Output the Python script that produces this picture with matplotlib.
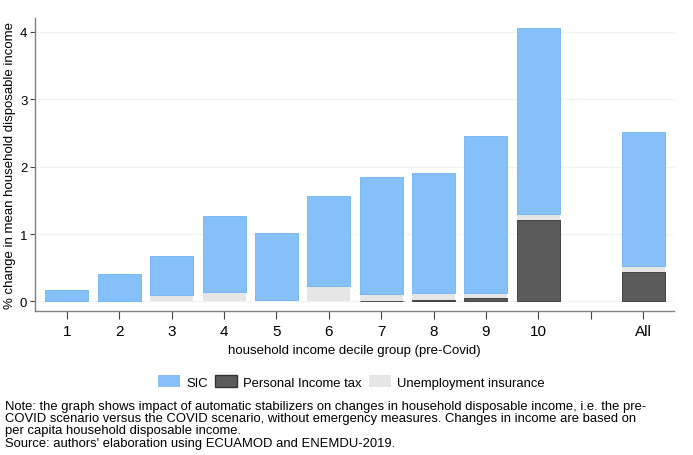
import numpy as np
import matplotlib.pyplot as plt
from matplotlib.patches import Patch

plt.rcParams['font.family'] = ['Liberation Sans', 'DejaVu Sans']

# data
groups = ['1', '2', '3', '4', '5', '6', '7', '8', '9', '10', 'All']
pit = [0, 0, 0, 0, 0, 0, 0.01, 0.02, 0.05, 1.21, 0.44]
ui = [0, 0, 0.10, 0.14, 0.02, 0.23, 0.10, 0.11, 0.08, 0.09, 0.09]
sic = [0.17, 0.41, 0.57, 1.13, 0.99, 1.33, 1.73, 1.77, 2.32, 2.76, 1.98]

# decile 1..10, blank slot, then All
pos = [1, 2, 3, 4, 5, 6, 7, 8, 9, 10, 12]

c_sic = '#85c0f9'
c_pit = '#5b5b5b'
c_ui = '#e6e6e6'

fig = plt.figure(figsize=(6.93, 4.56), dpi=100)
ax = fig.add_axes([0.0505, 0.316, 0.922, 0.642])

pit = np.array(pit)
ui = np.array(ui)
sic = np.array(sic)
w = 0.82
# no outline where the tax part is zero
pit_lw = [0.6 if v > 0 else 0 for v in pit]
ax.bar(pos, pit, width=w, color=c_pit, edgecolor='#333333', linewidth=pit_lw, zorder=3)
ax.bar(pos, ui, width=w, bottom=pit, color=c_ui, linewidth=0, zorder=3)
ax.bar(pos, sic, width=w, bottom=pit + ui, color=c_sic, edgecolor='#6fb2f5', linewidth=0.6, zorder=3)

ax.set_xlim(0.39, 12.59)
ax.set_ylim(-0.14, 4.2)
ax.set_xticks([1, 2, 3, 4, 5, 6, 7, 8, 9, 10, 11, 12])
ax.set_xticklabels(['1', '2', '3', '4', '5', '6', '7', '8', '9', '10', '', 'All'], fontsize=11)
ax.set_yticks([0, 1, 2, 3, 4])
ax.tick_params(axis='y', labelsize=9.5, length=3.5, color='#444444', pad=2)
ax.tick_params(axis='x', length=5.5, color='#444444', pad=4)
ax.yaxis.grid(True, color='#f2f2f2', linewidth=0.8, zorder=0)
for s in ['top', 'right']:
    ax.spines[s].set_visible(False)
for s in ['left', 'bottom']:
    ax.spines[s].set_color('#808080')
    ax.spines[s].set_linewidth(1.0)

ax.set_xlabel('household income decile group (pre-Covid)', fontsize=9.5, labelpad=4)
ax.set_ylabel('% change in mean household disposable income', fontsize=9.5, labelpad=3)

handles = [Patch(facecolor=c_sic, edgecolor='none'),
           Patch(facecolor=c_pit, edgecolor='#333333'),
           Patch(facecolor=c_ui, edgecolor='none')]
fig.legend(handles, ['SIC', 'Personal Income tax', 'Unemployment insurance'],
           loc='center', bbox_to_anchor=(0.507, 0.16), ncol=3, frameon=False,
           fontsize=9.4, handlelength=1.7, handleheight=0.95, handletextpad=0.45,
           columnspacing=0.55)

note = ("Note: the graph shows impact of automatic stabilizers on changes in household disposable income, i.e. the pre-\n"
        "COVID scenario versus the COVID scenario, without emergency measures. Changes in income are based on\n"
        "per capita household disposable income.\n"
        "Source: authors' elaboration using ECUAMOD and ENEMDU-2019.")
fig.text(0.007, 0.121, note, fontsize=9.4, va='top', ha='left', linespacing=1.03)

fig.savefig('out.png', dpi=100)
